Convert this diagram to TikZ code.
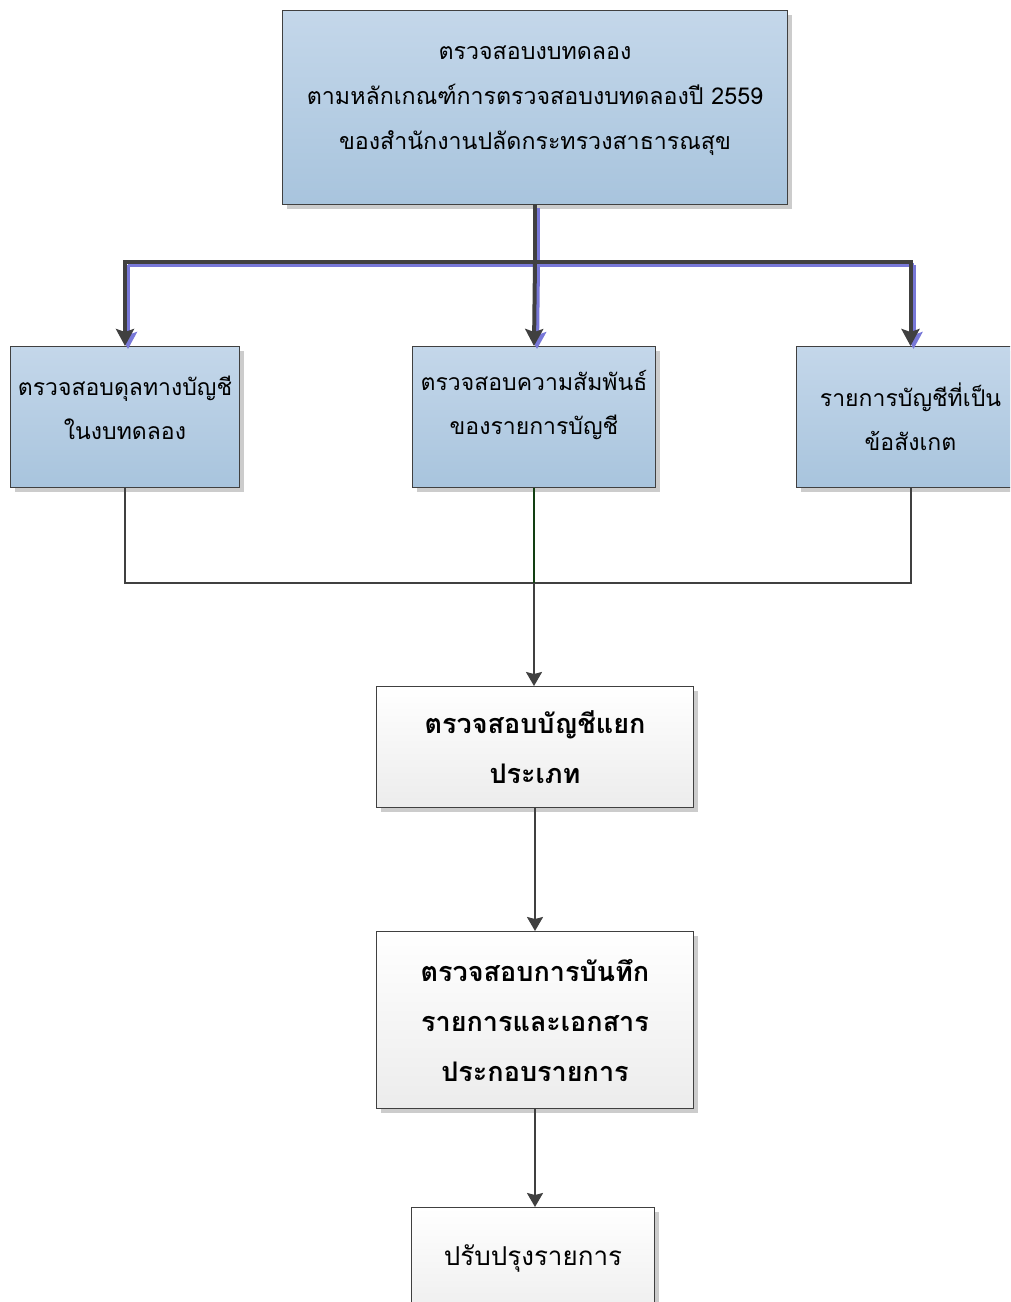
\documentclass[tikz,border=0pt]{standalone}
\usepackage{fontspec}
\newfontfamily\thai[Script=Thai]{Loma}
\usetikzlibrary{arrows.meta,shadows}
\definecolor{bluetop}{HTML}{C4D7EA}
\definecolor{bluebot}{HTML}{A8C4DD}
\definecolor{edgec}{HTML}{404040}
\definecolor{arrshadow}{HTML}{7878D8}
\definecolor{greenline}{HTML}{123F12}
\definecolor{graybot}{HTML}{ECECEC}
\begin{document}
\begin{tikzpicture}[x=1pt,y=-1pt,
  boxbase/.style={draw=edgec, line width=1pt, anchor=north west, align=center, inner sep=0pt,
    drop shadow={shadow xshift=4pt, shadow yshift=-4pt, fill=black!20, opacity=1}},
  bluebox/.style={boxbase, top color=bluetop, bottom color=bluebot},
  graybox/.style={boxbase, top color=white, bottom color=graybot},
  toptext/.style={font=\thai\fontsize{23.2}{45}\selectfont},
  sidetext/.style={font=\thai\fontsize{23}{44}\selectfont},
  boldtext/.style={font=\thai\bfseries\fontsize{27}{50}\selectfont},
  plaintext/.style={font=\thai\fontsize{26}{44}\selectfont},
  bigarrow/.style={draw=edgec, line width=4pt, -{Stealth[length=17pt,width=18pt,inset=3pt]}},
  bigshadow/.style={draw=arrshadow, line width=4pt, -{Stealth[length=17pt,width=18pt,inset=3pt]}},
  bigline/.style={draw=edgec, line width=4pt},
  bigshadowline/.style={draw=arrshadow, line width=4pt},
  thinline/.style={draw=edgec, line width=2pt},
  thinarrow/.style={draw=edgec, line width=2pt, -{Stealth[length=14pt,width=16pt,inset=2pt]}},
]
\useasboundingbox (0,0) rectangle (1010,1302);
\clip (0,0) rectangle (1010,1302);
\fill[white] (0,0) rectangle (1010,1302);

% boxes
\node[bluebox, toptext, minimum width=505pt, minimum height=194pt, text depth=20pt] (top) at (282,10)
  {ตรวจสอบงบทดลอง\\ตามหลักเกณฑ์การตรวจสอบงบทดลองปี 2559\\ของสำนักงานปลัดกระทรวงสาธารณสุข};
\node[bluebox, sidetext, minimum width=229pt, minimum height=141pt, text depth=18pt] (left) at (10,346)
  {ตรวจสอบดุลทางบัญชี\\ในงบทดลอง};
\node[bluebox, sidetext, minimum width=243pt, minimum height=141pt, text depth=30pt] (mid) at (412,346)
  {ตรวจสอบความสัมพันธ์\\ของรายการบัญชี};
\node[bluebox, sidetext, minimum width=228pt, minimum height=141pt] (right) at (796,346)
  {รายการบัญชีที่เป็น\\ข้อสังเกต};
\node[graybox, boldtext, minimum width=317pt, minimum height=121pt] (ledger) at (376,686)
  {ตรวจสอบบัญชีแยก\\ประเภท};
\node[graybox, boldtext, minimum width=317pt, minimum height=177pt] (record) at (376,931)
  {ตรวจสอบการบันทึก\\รายการและเอกสาร\\ประกอบรายการ};
\node[graybox, plaintext, minimum width=243pt, minimum height=120pt, text depth=24pt] (adjust) at (411,1207)
  {ปรับปรุงรายการ};

% junction coordinates
\coordinate (j1) at (top.south |- 0,262);
\coordinate (jl) at (left.north |- 0,262);
\coordinate (jr) at (right.north |- 0,262);
\coordinate (m1) at (left.south |- 0,583);
\coordinate (m2) at (mid.south |- 0,583);
\coordinate (m3) at (right.south |- 0,583);

% shadow of thick connectors
\begin{scope}[transform canvas={shift={(3pt,-3pt)}}]
  \draw[bigshadowline] (top.south) -- (j1);
  \draw[bigshadowline] (jl) -- (jr);
  \draw[bigshadow] (jl) -- (left.north);
  \draw[bigshadow] (j1) -- (mid.north);
  \draw[bigshadow] (jr) -- (right.north);
\end{scope}
% thick connectors
\draw[bigline] (top.south) -- (j1);
\draw[bigline,line cap=rect] (jl) -- (jr);
\draw[bigarrow] (jl) -- (left.north);
\draw[bigarrow] (j1) -- (mid.north);
\draw[bigarrow] (jr) -- (right.north);

% thin connectors
\draw[thinline] (left.south) -- (m1) -- (m3) -- (right.south);
\draw[draw=greenline, line width=2pt] (mid.south) -- (m2);
\draw[thinarrow] (m2) -- (m2 |- ledger.north);
\draw[thinarrow] (ledger.south) -- (record.north);
\draw[thinarrow] (record.south) -- (record.south |- adjust.north);
\end{tikzpicture}
\end{document}
